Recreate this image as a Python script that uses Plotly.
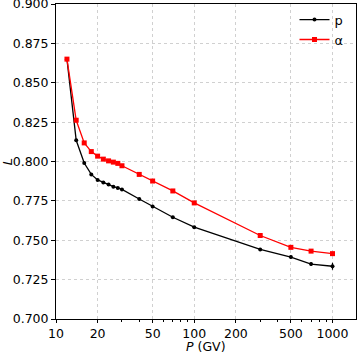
import plotly.graph_objects as go

# Rigidity bins (GV)
rigidity = [12, 14, 16, 18, 20, 22, 24, 26, 28, 30, 40, 50, 70, 100, 300, 500, 700, 1000]

# L for protons and helium
L_p = [0.865, 0.8135, 0.799, 0.7918, 0.7883, 0.7867, 0.7854, 0.7840, 0.7832, 0.7823,
       0.7762, 0.7714, 0.7646, 0.7583, 0.7442, 0.7393, 0.7349, 0.7335]
err_p = [0.0008, 0.0006, 0.0005, 0.0005, 0.0005, 0.0005, 0.0005, 0.0005, 0.0005, 0.0005,
         0.0005, 0.0005, 0.0005, 0.0006, 0.0008, 0.0010, 0.0012, 0.0022]

L_alpha = [0.865, 0.8262, 0.8118, 0.8063, 0.8034, 0.8015, 0.8004, 0.7996, 0.7988, 0.7973,
           0.7918, 0.7876, 0.7813, 0.7737, 0.7530, 0.7455, 0.7431, 0.7415]
err_alpha = [0.0012, 0.0008, 0.0006, 0.0006, 0.0005, 0.0005, 0.0005, 0.0005, 0.0005, 0.0005,
             0.0005, 0.0005, 0.0006, 0.0006, 0.0008, 0.0009, 0.0010, 0.0012]

y_ticks = [0.700, 0.725, 0.750, 0.775, 0.800, 0.825, 0.850, 0.875, 0.900]
x_ticks = [10, 20, 50, 100, 200, 500, 1000]
x_minor = [30, 40, 60, 70, 80, 90, 300, 400, 600, 700, 800, 900]

fig = go.Figure()
fig.add_trace(go.Scatter(
    x=rigidity, y=L_p, name="p", mode="lines+markers",
    line=dict(color="black", width=1.3),
    marker=dict(color="black", size=4, symbol="circle"),
    error_y=dict(type="data", array=err_p, color="black", thickness=1.2, width=0),
))
fig.add_trace(go.Scatter(
    x=rigidity, y=L_alpha, name="α", mode="lines+markers",
    line=dict(color="red", width=1.3),
    marker=dict(color="red", size=5, symbol="square"),
    error_y=dict(type="data", array=err_alpha, color="red", thickness=1.2, width=0),
))

fig.update_layout(
    width=357, height=354,
    margin=dict(l=56, r=1, t=4, b=35),
    plot_bgcolor="white", paper_bgcolor="white",
    font=dict(family="DejaVu Sans", size=12.5, color="black"),
    showlegend=True,
    legend=dict(x=0.975, y=0.998, xanchor="right", yanchor="top",
                bgcolor="rgba(255,255,255,0)", font=dict(size=13),
                itemwidth=30, tracegroupgap=0),
)

# x-axis title as an annotation so it sits just under the tick labels
fig.add_annotation(
    text="<i>P</i> (GV)", xref="paper", yref="paper", x=0.5, y=0,
    xanchor="center", yanchor="top", yshift=-19, showarrow=False,
    font=dict(size=12.5), borderpad=0,
)

fig.update_xaxes(
    type="log", range=[1, 3.17], automargin=False,
    tickvals=x_ticks, ticktext=[str(v) for v in x_ticks],
    ticks="outside", ticklen=3, tickcolor="black",
    showline=True, linecolor="black", linewidth=1, mirror=True,
    showgrid=True, gridcolor="#d0d0d0", griddash="dot", gridwidth=1,
    minor=dict(tickvals=x_minor, ticks="outside", ticklen=2, tickcolor="black", showgrid=False),
)
fig.update_yaxes(
    range=[0.7, 0.9], automargin=False,
    tickvals=y_ticks, ticktext=[f"{v:.3f}" for v in y_ticks],
    ticklabeloverflow="allow",
    ticks="outside", ticklen=4, tickcolor="black",
    showline=True, linecolor="black", linewidth=1, mirror=True,
    showgrid=True, gridcolor="#d0d0d0", griddash="dot", gridwidth=1,
    zeroline=False,
    title=dict(text="<i>L</i>", standoff=4, font=dict(size=13)),
)

fig.write_html("out.html", config={"displayModeBar": False},
               post_script="document.body.style.margin='0';")
